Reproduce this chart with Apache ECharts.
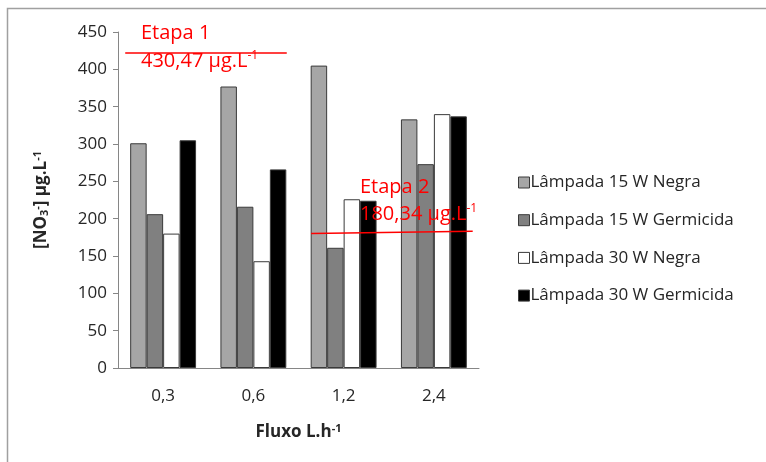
<!DOCTYPE html>
<html><head><meta charset="utf-8">
<script src="https://cdn.jsdelivr.net/npm/echarts@6/dist/echarts.min.js"></script>
<style>html,body{margin:0;padding:0;background:#fff}#c{width:766px;height:462px}</style>
</head><body><div id="c"></div>
<script>
const categories = ['0,3','0,6','1,2','2,4'];
const seriesNames = ['Lâmpada 15 W Negra','Lâmpada 15 W Germicida','Lâmpada 30 W Negra','Lâmpada 30 W Germicida'];
const negra15 = [301, 377, 405, 333];
const germ15 = [206, 216, 161, 273];
const negra30 = [180, 143, 226, 340];
const germ30 = [305, 266, 224, 337];
const yTicks = {min: 0, max: 450, interval: 50};
const etapa1Line = [[0.08, 422], [1.87, 422]];
const etapa2Line = [[2.14, 180], [3.93, 183]];

const FONT = 'Open Sans';
const FS = 17;
const TXT = '#262626';
const chart = echarts.init(document.getElementById('c'));
const colors = ['#a6a6a6', '#808080', '#ffffff', '#000000'];
const values = [negra15, germ15, negra30, germ30];
const barSeries = values.map((v, i) => ({
  name: seriesNames[i], type: 'bar', data: v, xAxisIndex: 0,
  barGap: '0%', barCategoryGap: '27%',
  itemStyle: {color: colors[i], borderColor: '#3a3a3a', borderWidth: 1},
  emphasis: {disabled: true}
}));
const supRich = {
  a: {fontFamily: FONT, fontSize: 20, fill: '#ff0000'},
  s: {fontFamily: FONT, fontSize: 12, fill: '#ff0000', padding: [0, 0, 10, 0]}
};
chart.setOption({
  animation: false,
  textStyle: {fontFamily: FONT},
  grid: {left: 118, right: 287, top: 32, bottom: 94},
  legend: {
    orient: 'vertical', left: 513, top: 169, itemWidth: 11, itemHeight: 11, itemGap: 20.7,
    data: seriesNames, icon: 'rect',
    itemStyle: {borderColor: '#3a3a3a', borderWidth: 1},
    textStyle: {fontFamily: FONT, fontSize: FS, color: TXT, padding: [0, 0, 0, -4]}
  },
  xAxis: [{
    type: 'category', data: categories,
    axisLine: {lineStyle: {color: '#868686'}},
    axisTick: {length: 5, lineStyle: {color: '#868686'}},
    axisLabel: {fontFamily: FONT, fontSize: FS, color: TXT, margin: 20},
    name: 'Fluxo L.h{s|-1}', nameLocation: 'middle', nameGap: 55,
    nameTextStyle: {fontFamily: FONT, fontSize: FS, fontWeight: 'bold', color: TXT,
      rich: {s: {fontFamily: FONT, fontSize: 11, fontWeight: 'bold', color: TXT, padding: [0, 0, 8, 0]}}}
  }, {
    type: 'value', min: 0, max: 4, show: false
  }],
  yAxis: {
    type: 'value', min: yTicks.min, max: yTicks.max, interval: yTicks.interval,
    axisLine: {show: true, lineStyle: {color: '#868686'}},
    axisTick: {show: true, length: 5, lineStyle: {color: '#868686'}},
    splitLine: {show: false},
    axisLabel: {fontFamily: FONT, fontSize: FS, color: TXT, margin: 11},
    name: '[NO{b|3}{s|-}] µg.L{s|-1}', nameLocation: 'middle', nameGap: 67,
    nameTextStyle: {fontFamily: FONT, fontSize: FS, fontWeight: 'bold', color: TXT,
      rich: {
        s: {fontFamily: FONT, fontSize: 11, fontWeight: 'bold', color: TXT, padding: [0, 0, 8, 0]},
        b: {fontFamily: FONT, fontSize: 11, fontWeight: 'bold', color: TXT, padding: [6, 0, 0, 0]}
      }}
  },
  series: barSeries.concat([
    {name: 'etapa1', type: 'line', xAxisIndex: 1, data: etapa1Line, symbol: 'none', z: 5,
      lineStyle: {color: '#ff0000', width: 1.5}, silent: true},
    {name: 'etapa2', type: 'line', xAxisIndex: 1, data: etapa2Line, symbol: 'none', z: 5,
      lineStyle: {color: '#ff0000', width: 1.5}, silent: true}
  ]),
  graphic: [
    {type: 'rect', shape: {x: 7.5, y: 8.5, width: 900, height: 600}, style: {fill: 'none', stroke: '#a0a0a0', lineWidth: 1.5}, silent: true},
    {type: 'text', left: 141, top: 23, z: 100, style: {text: 'Etapa 1', font: '20px "Open Sans"', fill: '#ff0000'}},
    {type: 'text', left: 141, top: 50, z: 100, style: {text: '{a|430,47 µg.L}{s|-1}', rich: supRich}},
    {type: 'text', left: 360, top: 177, z: 100, style: {text: 'Etapa 2', font: '20px "Open Sans"', fill: '#ff0000'}},
    {type: 'text', left: 360, top: 203, z: 100, style: {text: '{a|180,34 µg.L}{s|-1}', rich: supRich}}
  ]
});
</script></body></html>
